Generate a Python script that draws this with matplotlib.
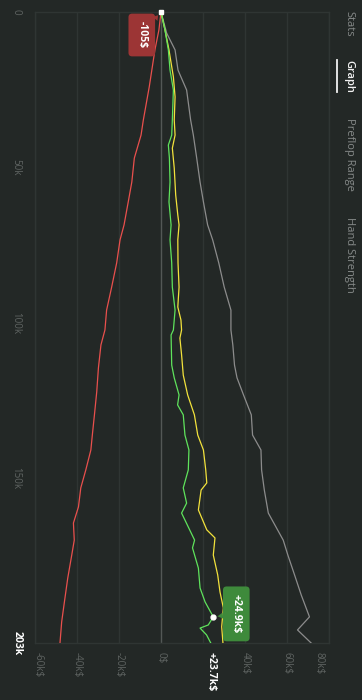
import numpy as np
import matplotlib.pyplot as plt
from matplotlib.lines import Line2D
from matplotlib.transforms import blended_transform_factory, ScaledTranslation

plt.rcParams['font.family'] = ['Open Sans', 'DejaVu Sans']

# hands played (x of the original chart, drawn top -> bottom here)
hand_total = 203000
hand_ticks = [0, 50000, 100000, 150000]
hand_labels = ['0', '50k', '100k', '150k']
end_hand_label = '203k'

# dollar axis
usd_ticks = [-60000, -40000, -20000, 0, 20000, 40000, 60000, 80000]
usd_labels = ['-60k$', '-40k$', '-20k$', '0$', '', '40k$', '60k$', '80k$']

# series (hands, $)
gray_hands = [0, 6800, 12200, 18700, 25100, 34700, 39600, 47000, 54700, 61100, 68500,
              73300, 80700, 88500, 95900, 102300, 107100, 113600, 117700, 123200, 129600,
              136100, 140900, 147300, 153800, 161200, 169900, 174700, 181100, 187600,
              194600, 198800, 203000]
gray_vals = [0, 2700, 6700, 8100, 12200, 14100, 15400, 17000, 18600, 20200, 22200,
             24600, 27500, 30100, 33300, 33300, 34200, 35000, 36200, 39300, 43000,
             43600, 47600, 47900, 49200, 51100, 58200, 60400, 63600, 66800,
             70700, 65000, 71500]

green_hands = [0, 5800, 12200, 18700, 25100, 34700, 39600, 42800, 47000, 54700, 61100,
               68500, 73300, 80700, 88500, 95900, 102300, 103900, 113600, 117700, 123200,
               126400, 129600, 136100, 140900, 147300, 153100, 158000, 161200, 169900,
               172400, 178900, 185300, 189800, 194600, 197200, 198200, 200400, 203000]
green_vals = [0, 1900, 3500, 4300, 5900, 5400, 5100, 3500, 4000, 4300, 3800,
              4800, 4300, 5100, 5400, 6700, 5900, 4800, 5100, 6300, 8600,
              7900, 10600, 11400, 13300, 13000, 10600, 12200, 9800, 16000,
              15000, 17800, 18600, 21000, 24900, 22500, 18600, 21700, 23700]

yellow_hands = [0, 5800, 12200, 20900, 27300, 34700, 39600, 43800, 50200, 58900, 65300,
                68500, 73300, 80700, 88500, 94900, 99100, 102300, 104900, 110300, 116800,
                123200, 129600, 136100, 140900, 147300, 151500, 153800, 160200, 166600,
                169200, 174700, 181100, 186600, 191700, 197800, 203000]
yellow_vals = [0, 1900, 3800, 5900, 6700, 6300, 6700, 5400, 6300, 7000, 8000,
               8600, 8000, 8100, 8600, 8000, 9500, 9800, 9000, 9800, 10600,
               12700, 15900, 17500, 20200, 21300, 21800, 19100, 17800, 21800,
               25700, 24900, 27000, 28100, 29700, 28900, 29500]

red_hands = [0, 5800, 12200, 24100, 34700, 39600, 47000, 54700, 61100, 68500, 73300,
             80700, 88500, 95900, 102300, 107100, 114500, 122200, 129600, 136100, 140900,
             147300, 153100, 159200, 164400, 169900, 174700, 182100, 189800, 196200, 203000]
red_vals = [0, -1000, -2900, -5600, -8400, -9500, -12700, -13900, -15600, -17600, -19500,
            -21100, -23500, -25900, -26700, -28600, -29800, -30600, -31700, -32700, -33400,
            -35800, -38200, -39300, -41700, -41300, -42500, -44400, -46000, -47300, -48100]

# hover tooltips (hand, $, text)
tip_hands = [0, 194600]
tip_vals = [-105, 24900]
tip_labels = ['-105$', '+24.9k$']

end_label = '+23.7k$'

tabs = ['Stats', 'Graph', 'Preflop Range', 'Hand Strength']

BG = '#232826'
GRID = '#2f3533'
ZERO = '#535856'
TICK = '#5f6462'
RED = '#e9504d'
GREEN = '#5fe35c'
YELLOW = '#f2e23c'
GRAY = '#8c8c8c'

W, H = 362, 700
fig = plt.figure(figsize=(W / 100, H / 100), dpi=100, facecolor=BG)
ax = fig.add_axes([35 / W, 1 - 643 / H, 294 / W, 631 / H])
ax.set_facecolor(BG)
ax.set_xlim(usd_ticks[0], usd_ticks[-1])
ax.set_ylim(hand_total, 0)
ax.set_xticks([])
ax.set_yticks([])
for s in ax.spines.values():
    s.set_color(GRID)
    s.set_linewidth(1)

for v in usd_ticks:
    ax.axvline(v, color=ZERO if v == 0 else GRID, lw=1, zorder=1)

ax.plot(gray_vals, gray_hands, color=GRAY, lw=0.9, zorder=3)
ax.plot(red_vals, red_hands, color=RED, lw=0.9, zorder=3)
ax.plot(yellow_vals, yellow_hands, color=YELLOW, lw=0.9, zorder=4)
ax.plot(green_vals, green_hands, color=GREEN, lw=0.9, zorder=5)

# hand labels on the left
tr_h = blended_transform_factory(fig.transFigure, ax.transData)
for h, lab in zip(hand_ticks, hand_labels):
    ax.text(16 / W, h, lab, transform=tr_h, rotation=270, ha='center', va='center',
            color=TICK, fontsize=7)
ax.text(17 / W, hand_total, end_hand_label, transform=tr_h, rotation=270, ha='center',
        va='center', color='white', fontsize=7.5, fontweight='bold')

# dollar labels under the plot
tr_v = blended_transform_factory(ax.transData, fig.transFigure)
for i, (v, lab) in enumerate(zip(usd_ticks, usd_labels)):
    t = tr_v
    if i == 0:
        t = tr_v + ScaledTranslation(3 / 100, 0, fig.dpi_scale_trans)
    elif i == len(usd_ticks) - 1:
        t = tr_v + ScaledTranslation(-10 / 100, 0, fig.dpi_scale_trans)
    ax.text(v, 1 - 652 / H, lab, transform=t, rotation=270, ha='center', va='top',
            color=TICK, fontsize=7)
ax.text(green_vals[-1], 1 - 652 / H, end_label, transform=tr_v, rotation=270,
        ha='center', va='top', color='white', fontsize=7.5, fontweight='bold')

# tooltips
tip_colors = ['#9c3535', '#3e8a3b']
tip_offsets = [(-19, -23), (23, 3)]
tip_marks = ['s', 'o']
for h, v, lab, c, off, m in zip(tip_hands, tip_vals, tip_labels, tip_colors, tip_offsets, tip_marks):
    ax.annotate(lab, xy=(v, h), xytext=off, textcoords='offset pixels',
                rotation=270, ha='center', va='center', color='white', fontsize=7.5,
                fontweight='bold', zorder=8, annotation_clip=False,
                bbox=dict(boxstyle='round,pad=0.75,rounding_size=0.35', fc=c, ec='none'),
                arrowprops=dict(arrowstyle='wedge,tail_width=0.6', fc=c, ec='none',
                                shrinkA=0, shrinkB=3))
    ax.plot(v, h, m, color='white', ms=3.5 if m == 'o' else 2.5, zorder=9, clip_on=False)

# tab bar on the right
tab_y = [24, 76, 154, 255]
for name, y in zip(tabs, tab_y):
    sel = name == 'Graph'
    fig.text(349 / W, 1 - y / H, name, rotation=270, ha='center', va='center',
             color='#f2f2f2' if sel else '#868a89', fontsize=8,
             fontweight='semibold' if sel else 'normal')
fig.add_artist(Line2D([337 / W, 337 / W], [1 - 60 / H, 1 - 92 / H], color='#f2f2f2', lw=1.3))

fig.savefig('out.png', dpi=100, facecolor=BG)
